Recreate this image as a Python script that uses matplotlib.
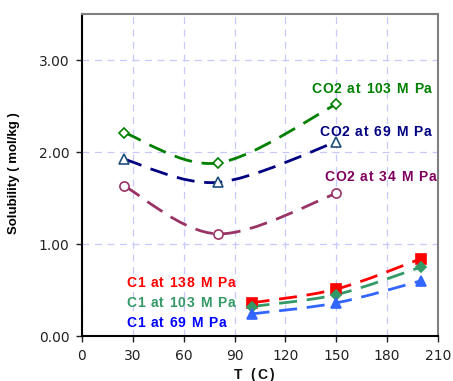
import matplotlib
matplotlib.use("Agg")
import matplotlib.pyplot as plt
from matplotlib.path import Path
from matplotlib.patches import PathPatch
from matplotlib.font_manager import FontProperties
import numpy as np

plt.rcParams['font.family'] = ['Liberation Sans', 'DejaVu Sans']
plt.rcParams['lines.scale_dashes'] = False

# ---- data ----
co2_T = [25, 80, 150]
co2_103 = [2.21, 1.88, 2.52]
co2_69 = [1.92, 1.67, 2.11]
co2_34 = [1.63, 1.11, 1.55]

c1_T = [100, 150, 200]
c1_138 = [0.36, 0.51, 0.84]
c1_103 = [0.32, 0.45, 0.75]
c1_69 = [0.24, 0.36, 0.60]

xticks = [0, 30, 60, 90, 120, 150, 180, 210]
yticks = [0.0, 1.0, 2.0, 3.0]
ytick_labels = ["0.00", "1.00", "2.00", "3.00"]

series = [
    # x, y, line color, marker, marker face, marker edge, ms
    (co2_T, co2_103, "#008000", "D", "white", "#008000", 4.8),
    (co2_T, co2_69, "#000080", "^", "white", "#1F4E79", 6.5),
    (co2_T, co2_34, "#993366", "o", "white", "#993366", 6.6),
    (c1_T, c1_138, "#FF0000", "s", "#FF0000", "#FF0000", 7.0),
    (c1_T, c1_103, "#339966", "D", "#339966", "#339966", 4.8),
    (c1_T, c1_69, "#3366FF", "^", "#3366FF", "#3366FF", 7.0),
]

W, H = 453, 381
fig = plt.figure(figsize=(W/100, H/100), dpi=100)
ax = fig.add_axes([82/W, 1-336/H, (438-82)/W, (336-14)/H])

ax.set_xlim(0, 210)
ax.set_ylim(0, 3.5)
ax.set_xticks(xticks)
ax.set_yticks(yticks)
ax.set_yticklabels(ytick_labels)
ax.tick_params(axis='both', direction='out', length=4, width=1, labelsize=10,
               colors='#222222', pad=5)
for lab in ax.get_xticklabels() + ax.get_yticklabels():
    lab.set_fontfamily('DejaVu Sans')
ax.grid(True, color='#C8C8FF', linestyle=(0, (5, 4)), linewidth=0.9)
ax.set_axisbelow(True)
for s in ['left', 'bottom']:
    ax.spines[s].set_color('black')
    ax.spines[s].set_linewidth(1.5)
for s in ['top', 'right']:
    ax.spines[s].set_color('#808080')
    ax.spines[s].set_linewidth(1.5)


def smooth_path(xs, ys):
    pts = np.column_stack([xs, ys]).astype(float)
    n = len(pts)
    verts = [pts[0]]
    codes = [Path.MOVETO]
    for i in range(n - 1):
        p0 = pts[i - 1] if i > 0 else pts[i]
        p1 = pts[i]
        p2 = pts[i + 1]
        p3 = pts[i + 2] if i + 2 < n else pts[i + 1]
        c1 = p1 + (p2 - p0) / 6.0
        c2 = p2 - (p3 - p1) / 6.0
        verts += [c1, c2, p2]
        codes += [Path.CURVE4] * 3
    return Path(verts, codes)


for xs, ys, lc, mk, mf, me, ms in series:
    patch = PathPatch(smooth_path(xs, ys), facecolor='none', edgecolor=lc,
                      linewidth=2.0, linestyle=(0, (13, 7)), capstyle='butt')
    ax.add_patch(patch)
    ax.plot(xs, ys, linestyle='none', marker=mk, markersize=ms,
            markerfacecolor=mf, markeredgecolor=me, markeredgewidth=1.2,
            zorder=5, clip_on=False)

renderer = fig.canvas.get_renderer()


def spaced_text(px, py, txt, color, size, spacing):
    """Draw text with letter spacing; px, py in pixels from top-left (start, center)."""
    fp = FontProperties(family='Liberation Sans', weight='bold', size=size)
    bar_w = renderer.get_text_width_height_descent("|", fp, ismath=False)[0]
    for i, ch in enumerate(txt):
        if ch == " ":
            continue
        w = renderer.get_text_width_height_descent(txt[:i] + "|", fp, ismath=False)[0] - bar_w
        off = w + i * spacing
        fig.text((px + off) / W, 1 - py / H, ch, color=color, fontproperties=fp,
                 ha='left', va='center')


label_pos = [
    (311, 89, "CO2 at 103 M Pa", "#008000"),
    (319, 132, "CO2 at 69 M Pa", "#000080"),
    (324, 177, "CO2 at 34 M Pa", "#800060"),
    (126, 283, "C1 at 138 M Pa", "#FF0000"),
    (126, 303, "C1 at 103 M Pa", "#339966"),
    (126, 323, "C1 at 69 M Pa", "#0000FF"),
]
for px, py, txt, col in label_pos:
    spaced_text(px, py, txt, col, 10, 0.9)

fig.text(14/W, 1-173/H, "Solubility ( mol/kg )", rotation=90,
         fontsize=9.5, fontweight='bold', ha='center', va='center')
spaced_text(234, 375, "T (C)", "#111111", 10, 2.0)

fig.savefig("out.png", dpi=100)
